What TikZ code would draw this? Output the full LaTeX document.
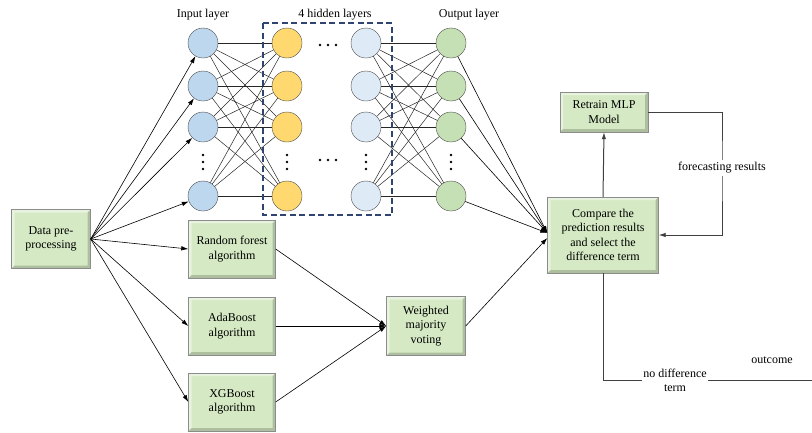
\documentclass[tikz,border=0pt]{standalone}
\usepackage{fontspec}
\setmainfont{Liberation Serif}
\usetikzlibrary{arrows.meta,positioning}

\definecolor{boxgreen}{RGB}{213,234,196}
\definecolor{inblue}{RGB}{189,215,238}
\definecolor{hidyellow}{RGB}{255,217,112}
\definecolor{hidblue}{RGB}{222,235,247}
\definecolor{outgreen}{RGB}{197,224,180}
\definecolor{frameblue}{RGB}{47,68,112}

\tikzset{
  neuron/.style={circle,draw=black!70,minimum size=30pt,inner sep=0pt},
  procbox/.style={draw=black!45,fill=boxgreen,align=center,inner sep=1pt,
    font=\fontsize{12}{14.3}\selectfont,
    path picture={
      \fill[white,opacity=0.45] (path picture bounding box.north west) -- (path picture bounding box.north east)
        -- ([shift={(-3pt,-3pt)}]path picture bounding box.north east) -- ([shift={(3pt,-3pt)}]path picture bounding box.north west)
        -- ([shift={(3pt,3pt)}]path picture bounding box.south west) -- (path picture bounding box.south west) -- cycle;
      \fill[black,opacity=0.18] (path picture bounding box.south east) -- (path picture bounding box.south west)
        -- ([shift={(3pt,3pt)}]path picture bounding box.south west) -- ([shift={(-3pt,3pt)}]path picture bounding box.south east)
        -- ([shift={(-3pt,-3pt)}]path picture bounding box.north east) -- (path picture bounding box.north east) -- cycle;
    }},
  link/.style={-{Latex[length=7pt,width=4.5pt]},black,line width=0.6pt},
  netline/.style={black!85,line width=0.5pt},
  caption/.style={font=\fontsize{12}{14.3}\selectfont,align=center,text=black},
  dot/.style={fill=black,radius=1.4pt}
}

\begin{document}
\begin{tikzpicture}[x=1pt,y=-1pt]

\useasboundingbox (0,0) rectangle (812,432);

% neural network
\foreach \n/\y in {1/43,2/86,3/127,4/196} {
  \node[neuron,fill=inblue] (i\n) at (203,\y) {};
  \node[neuron,fill=hidyellow] (a\n) at (287,\y) {};
  \node[neuron,fill=hidblue] (b\n) at (366,\y) {};
  \node[neuron,fill=outgreen] (o\n) at (451,\y) {};
}
\foreach \p in {1,...,4}
  \foreach \q in {1,...,4} {
    \draw[netline] (i\p) -- (a\q);
    \draw[netline] (b\p) -- (o\q);
  }

% vertical and horizontal dots
\foreach \x in {203,287,366,451}
  \foreach \d in {-7,0,7}
    \fill[dot] (\x,162+\d) circle;
\foreach \y in {45,160}
  \foreach \d in {-8,0,8}
    \fill[dot] (328+\d,\y) circle;

\draw[frameblue,line width=1.1pt,dash pattern=on 6pt off 3.5pt] (263,23) rectangle (392,215);

\node[caption] (lin) at (203,15) {Input layer};
\node[caption] (lhid) at (335,15) {4 hidden layers};
\node[caption] (lout) at (469,15) {Output layer};

% process boxes
\node[procbox,minimum width=79pt,minimum height=59pt] (data) at (51,239) {Data pre-\\processing};
\node[procbox,minimum width=87pt,minimum height=58pt] (rf) at (232,249) {Random forest\\algorithm};
\node[procbox,minimum width=87pt,minimum height=58pt] (ada) at (232,326) {AdaBoost\\algorithm};
\node[procbox,minimum width=87pt,minimum height=58pt] (xgb) at (232,402) {XGBoost\\algorithm};
\node[procbox,minimum width=79pt,minimum height=59pt] (vote) at (426,326) {Weighted\\majority\\voting};
\node[procbox,minimum width=111pt,minimum height=76pt] (cmp) at (603,235) {Compare the\\prediction results\\and select the\\difference term};
\node[procbox,minimum width=88pt,minimum height=40pt] (mlp) at (604,112) {Retrain MLP\\Model};

% inputs
\foreach \n in {1,...,4}
  \draw[link] (data.east) -- (i\n);
\foreach \m in {rf,ada,xgb}
  \draw[link] (data.east) -- (\m.west);

% ensemble
\foreach \m in {rf,ada,xgb}
  \draw[link] (\m.east) -- (vote.west);

% to comparison
\foreach \n in {1,...,4}
  \draw[link] (o\n) -- ([yshift=2pt]cmp.west);
\draw[link] (vote.east) -- ([yshift=-3pt]cmp.west);

\draw[link,black!75,line width=1pt] (cmp.north) -- (mlp.south);

\coordinate (fb) at (722,168);
\draw[link,black!75,line width=0.8pt] (mlp.east) -| (fb) node[caption,fill=white,inner sep=2pt] {forecasting results} |- (cmp.east);

\coordinate (outend) at (812,380);
\draw[black!75,line width=0.8pt] (cmp.south) |- (outend);
\node[caption,fill=white,inner sep=1pt] (nodiff) at (675,380) {no difference\\term};
\node[caption] (outc) at (772,360) {outcome};

\end{tikzpicture}
\end{document}
